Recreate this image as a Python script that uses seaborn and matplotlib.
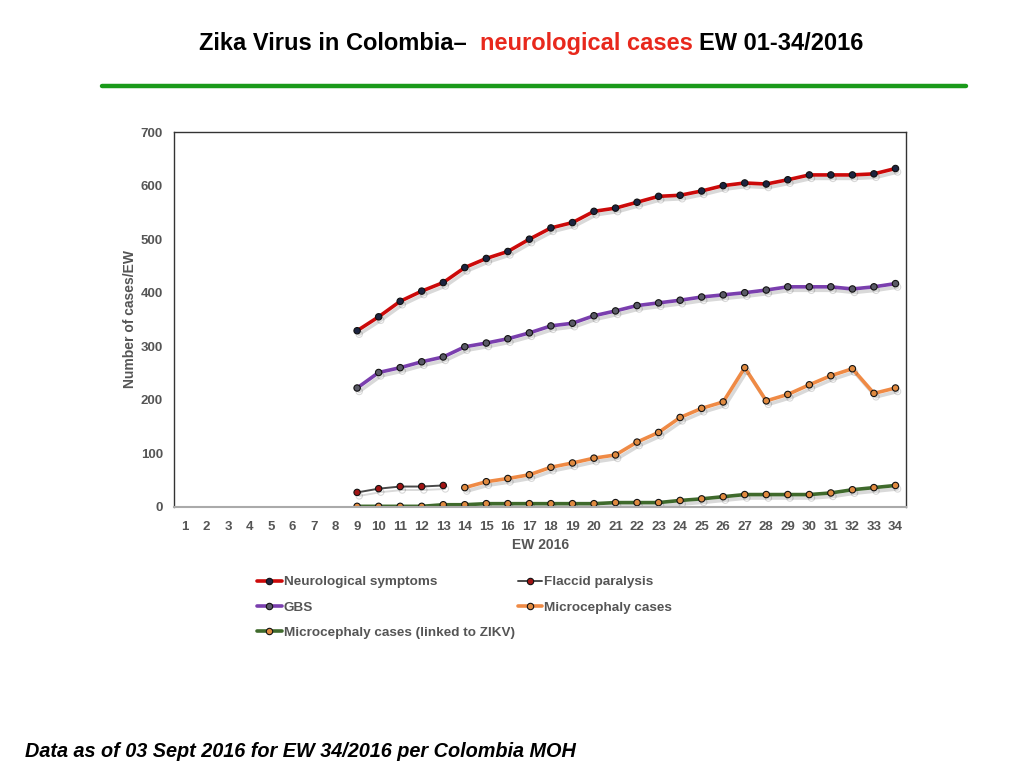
import matplotlib
matplotlib.use("Agg")
from matplotlib import pyplot as plt
import matplotlib.patheffects as pe
from matplotlib.lines import Line2D
import numpy as np
import pandas as pd
import seaborn as sns

# epidemiological weeks
weeks = list(range(1, 35))

neuro_weeks = list(range(9, 35))
neuro = [329, 355, 384, 403, 419, 447, 464, 477, 500, 521, 531, 552, 558,
         569, 580, 582, 590, 600, 605, 603, 611, 620, 620, 620, 622, 632]

gbs_weeks = list(range(9, 35))
gbs = [222, 251, 260, 271, 280, 299, 306, 314, 325, 338, 343, 357, 366,
       376, 381, 386, 392, 396, 400, 405, 411, 411, 411, 407, 411, 417]

flaccid_weeks = list(range(9, 14))
flaccid = [27, 34, 38, 38, 40]

micro_weeks = list(range(14, 35))
micro = [36, 47, 53, 60, 74, 82, 91, 97, 121, 139, 167, 184, 196, 260,
         198, 210, 228, 245, 258, 212, 222]

zikv_weeks = list(range(9, 35))
zikv = [1, 1, 1, 1, 4, 4, 6, 6, 6, 6, 6, 6, 8, 8, 8, 12, 15, 19, 23, 23,
        23, 23, 26, 32, 36, 40]

labels = ["Neurological symptoms", "GBS", "Microcephaly cases (linked to ZIKV)",
          "Flaccid paralysis", "Microcephaly cases"]

sns.set_style("white")
plt.rcParams['font.family'] = ['Liberation Sans', 'DejaVu Sans']

fig = plt.figure(figsize=(10.24, 7.68), dpi=100)
ax = fig.add_axes([0.170, 0.340, 0.715, 0.488])

shadow = [pe.SimpleLineShadow(offset=(1.5, -2.5), alpha=0.15, shadow_color='black'), pe.Normal()]

series = [
    # weeks, values, line colour, marker face, width
    (neuro_weeks, neuro, "#cc0a0a", "#1c2440", 2.6),
    (gbs_weeks, gbs, "#7a3fae", "#5a5a66", 2.6),
    (zikv_weeks, zikv, "#3f6a2c", "#e08a40", 2.6),
    (flaccid_weeks, flaccid, "#4a4a4a", "#a01414", 1.4),
    (micro_weeks, micro, "#ef8a45", "#e08a40", 2.6),
]

handles = []
for (wk, vals, col, mfc, lw), lab in zip(series, labels):
    df = pd.DataFrame({"EW": wk, "cases": vals})
    sns.lineplot(data=df, x="EW", y="cases", ax=ax, color=col, lw=lw,
                 marker="o", markersize=4.6, markerfacecolor=mfc,
                 markeredgecolor="#111111", markeredgewidth=0.8,
                 path_effects=shadow, legend=False)
    handles.append(Line2D([], [], color=col, lw=lw, marker="o", markersize=4.6,
                          markerfacecolor=mfc, markeredgecolor="#111111",
                          markeredgewidth=0.8))

ax.set_xlim(0.5, 34.5)
ax.set_ylim(0, 700)
ax.set_xticks(weeks)
ax.set_yticks(range(0, 701, 100))
ax.tick_params(length=0, labelsize=9.5, labelcolor="#555555")
ax.tick_params(axis="x", pad=10)
ax.tick_params(axis="y", pad=8)
for t in ax.get_xticklabels() + ax.get_yticklabels():
    t.set_fontweight("bold")
for s in ["top", "left", "right"]:
    ax.spines[s].set_color("#333333")
    ax.spines[s].set_linewidth(1.0)
ax.spines["bottom"].set_color("#aaaaaa")
ax.spines["bottom"].set_linewidth(1.5)

ax.set_xlabel("EW 2016", fontsize=10, fontweight="bold", color="#555555", labelpad=4)
ax.set_ylabel("Number of cases/EW", fontsize=10, fontweight="bold", color="#555555", labelpad=3)

leg = fig.legend(handles, labels, ncol=2, loc="upper left",
                 bbox_to_anchor=(0.246, 0.257), frameon=False,
                 handlelength=1.8, handletextpad=0.15, columnspacing=0.25,
                 labelspacing=0.95, borderaxespad=0.0, prop={"size": 9.7, "weight": "bold"})
for t in leg.get_texts():
    t.set_color("#555555")

# title in three colours
tfont = dict(fontsize=17, fontweight="bold")
t1 = fig.text(0.194, 0.943, "Zika Virus in Colombia\u2013  ", color="black", va="center", ha="left", **tfont)
t2 = ax.annotate("neurological cases ", xy=(1, 0), xycoords=t1, va="bottom", ha="left",
                 color="#e8281c", annotation_clip=False, **tfont)
t3 = ax.annotate("EW 01-34/2016", xy=(1, 0), xycoords=t2, va="bottom", ha="left",
                 color="black", annotation_clip=False, **tfont)

fig.add_artist(Line2D([0.1, 0.943], [0.888, 0.888], color="#1a9a1a", lw=3.2,
                      transform=fig.transFigure))

fig.text(0.024, 0.021, "Data as of 03 Sept 2016 for EW 34/2016 per Colombia MOH",
         fontsize=14.3, fontweight="bold", style="italic", color="black", ha="left", va="center")

fig.savefig("out.png", dpi=100)
